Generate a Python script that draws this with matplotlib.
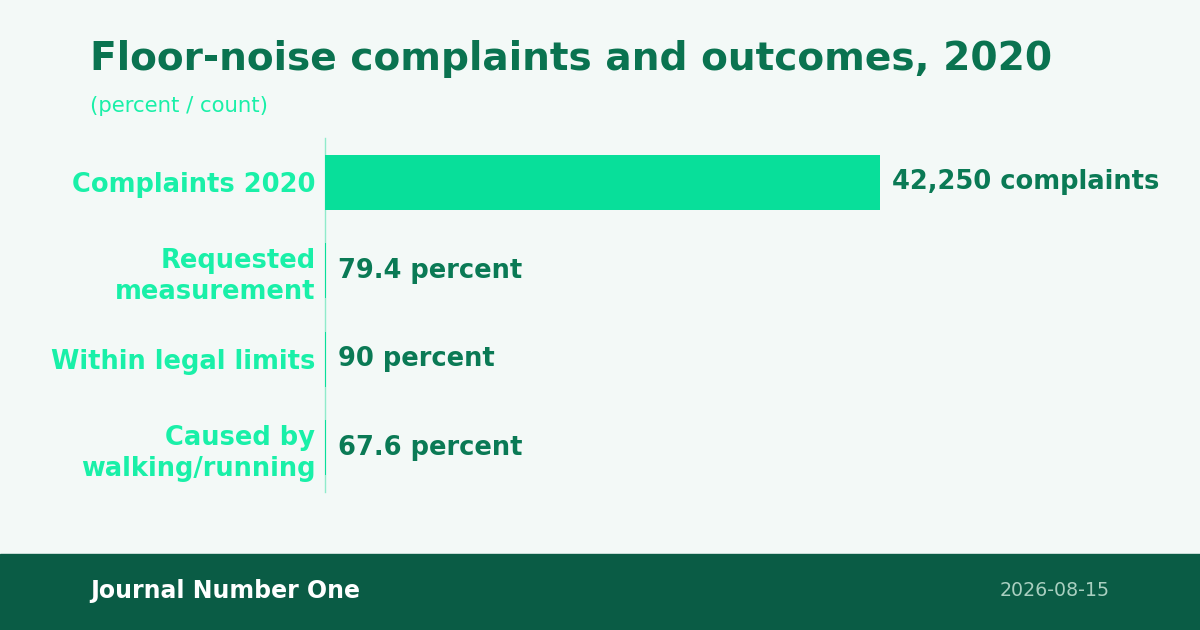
import matplotlib
matplotlib.use("Agg")
import matplotlib.pyplot as plt
from matplotlib.patches import Rectangle

plt.rcParams["font.family"] = ["DejaVu Sans"]

# data
categories = ["Complaints 2020", "Requested\nmeasurement", "Within legal limits", "Caused by\nwalking/running"]
values = [42250, 79.4, 90, 67.6]
value_labels = ["42,250 complaints", "79.4 percent", "90 percent", "67.6 percent"]

title = "Floor-noise complaints and outcomes, 2020"
subtitle = "(percent / count)"
source = "Journal Number One"
date = "2026-08-15"

bg = "#F3F9F7"
bar_col = "#08DF9A"
label_col = "#19F0A8"
value_col = "#0A7A55"
title_col = "#0A7350"
footer_col = "#0A5C45"

W, H = 1200, 630
fig = plt.figure(figsize=(12, 6.3), dpi=100, facecolor=bg)

# axes in pixel coords: left 325, right 1110, top 138, bottom 492
ax = fig.add_axes([325 / W, 1 - 492 / H, (1110 - 325) / W, (492 - 138) / H])
ax.set_facecolor(bg)
y = list(range(len(categories)))
ax.barh(y, values, height=0.62, color=bar_col, zorder=3)
ax.set_ylim(len(categories) - 0.5, -0.5)
ax.set_xlim(0, max(values) * 785 / 555)

for i, (v, lab) in enumerate(zip(values, value_labels)):
    ax.annotate(lab, (v, i), xytext=(12, 0), textcoords="offset pixels",
                ha="left", va="center", fontsize=18.5, fontweight="bold", color=value_col)

ax.set_yticks(y)
ax.set_yticklabels(categories, fontsize=18.5, fontweight="bold", color=label_col,
                   linespacing=1.25)
ax.tick_params(axis="y", length=0, pad=7)
ax.set_xticks([])
for s in ["top", "right", "bottom"]:
    ax.spines[s].set_visible(False)
ax.spines["left"].set_color("#8FEBCB")
ax.spines["left"].set_linewidth(1.0)

fig.text(90 / W, 1 - 59 / H, title, fontsize=28.2, fontweight="bold", color=title_col,
         ha="left", va="center")
fig.text(90 / W, 1 - 106 / H, subtitle, fontsize=15.3, color=label_col,
         ha="left", va="center")

# footer band
fig.patches.append(Rectangle((0, 0), 1, 76 / H, transform=fig.transFigure,
                             color=footer_col, zorder=0))
fig.text(90 / W, 1 - 591 / H, source, fontsize=17, fontweight="bold", color="white",
         ha="left", va="center")
fig.text(1110 / W, 1 - 591 / H, date, fontsize=13.7, color="#A9CFC0",
         ha="right", va="center")

fig.savefig("out.png", dpi=100, facecolor=bg)
